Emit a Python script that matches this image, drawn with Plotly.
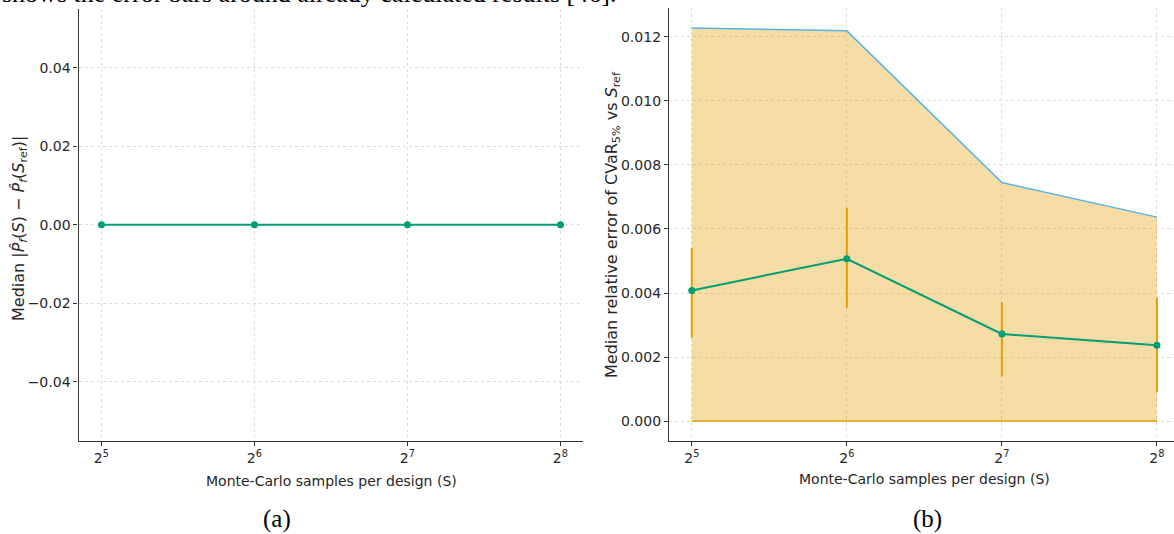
import math
import numpy as np
import plotly.graph_objects as go

# ---------------- data ----------------
S = [32, 64, 128, 256]
tick_text = ["2<sup>5</sup>", "2<sup>6</sup>", "2<sup>7</sup>", "2<sup>8</sup>"]

# (a) median |Pf(S) - Pf(Sref)|
pf_median = [0.0, 0.0, 0.0, 0.0]

# (b) median relative CVaR error with error bars and band
cvar_median = [0.00408, 0.00507, 0.00272, 0.00237]
cvar_err_hi = [0.00541, 0.00666, 0.00370, 0.00385]
cvar_err_lo = [0.00260, 0.00353, 0.00139, 0.00091]
band_hi = [0.01228, 0.01219, 0.00745, 0.00637]
band_lo = [0.0, 0.0, 0.0, 0.0]

# ---------------- style ----------------
W, H = 1174, 534
GREEN = "#009E73"
ORANGE = "#E69F00"
BLUE = "#56B4E9"
TXT = "#262626"
FONT = "DejaVu Sans"
SERIF = "Liberation Serif"

def px_x(p):
    return p / W

def px_y(p):
    return (H - p) / H

L2 = math.log10(2)

fig = go.Figure()

# (a)
fig.add_trace(go.Scatter(
    x=S, y=pf_median, mode="lines+markers",
    line=dict(color=GREEN, width=2), marker=dict(color=GREEN, size=7),
    xaxis="x", yaxis="y", showlegend=False))

# (b) band
fig.add_trace(go.Scatter(
    x=S, y=band_lo, mode="lines", line=dict(color=ORANGE, width=1.5),
    xaxis="x2", yaxis="y2", showlegend=False))
fig.add_trace(go.Scatter(
    x=S, y=band_hi, mode="lines", line=dict(color=BLUE, width=1.5),
    fill="tonexty", fillcolor="rgba(230,159,0,0.35)",
    xaxis="x2", yaxis="y2", showlegend=False))

med = np.array(cvar_median)
fig.add_trace(go.Scatter(
    x=S, y=cvar_median, mode="lines+markers",
    line=dict(color=GREEN, width=2), marker=dict(color=GREEN, size=7),
    error_y=dict(type="data", array=(np.array(cvar_err_hi) - med).tolist(),
                 arrayminus=(med - np.array(cvar_err_lo)).tolist(),
                 color=ORANGE, thickness=2, width=0),
    xaxis="x2", yaxis="y2", showlegend=False))

axis_common = dict(
    showline=True, linecolor="#333333", linewidth=1.3,
    ticks="outside", ticklen=4, tickcolor="#333333", tickwidth=1,
    showgrid=True, gridcolor="#dcdcdc", griddash="dot", gridwidth=1,
    zeroline=False, tickfont=dict(family=FONT, size=14, color=TXT),
)

fig.update_layout(
    width=W, height=H,
    margin=dict(l=0, r=0, t=0, b=0),
    paper_bgcolor="white", plot_bgcolor="white",
    font=dict(family=FONT, color=TXT),
    xaxis=dict(axis_common, type="log", domain=[px_x(78.5), px_x(583.4)],
               range=[4.85 * L2, 8.15 * L2], tickvals=S, ticktext=tick_text,
               anchor="y"),
    yaxis=dict(axis_common, domain=[px_y(440.7), px_y(9)],
               range=[-0.055, 0.055], tickvals=[-0.04, -0.02, 0.0, 0.02, 0.04],
               tickformat=".2f", anchor="x"),
    xaxis2=dict(axis_common, type="log", domain=[px_x(669), 1.0],
                range=[4.853 * L2, 8.11 * L2], tickvals=S, ticktext=tick_text,
                anchor="y2"),
    yaxis2=dict(axis_common, domain=[px_y(440.7), px_y(8.3)],
                range=[-0.000614, 0.012894],
                tickvals=[0.0, 0.002, 0.004, 0.006, 0.008, 0.010, 0.012],
                tickformat=".3f", anchor="x2"),
)

def note(text, x, y, size, family=FONT, color=TXT, angle=0,
         xanchor="center", yanchor="middle"):
    return dict(text=text, x=px_x(x), y=px_y(y), xref="paper", yref="paper",
                xanchor=xanchor, yanchor=yanchor, showarrow=False,
                textangle=angle, font=dict(family=family, size=size, color=color))

ann = [
    note("Monte-Carlo samples per design (S)", 331, 481, 14),
    note("Monte-Carlo samples per design (S)", 924.5, 479, 14),
    note("Median |<i>P̂</i><sub><i>f</i></sub>(<i>S</i>) − "
         "<i>P̂</i><sub><i>f</i></sub>(<i>S</i><sub>ref</sub>)|",
         19, 229, 16, angle=-90),
    note("Median relative error of CVaR<sub>5%</sub> vs <i>S</i><sub>ref</sub>",
         612, 225, 16, angle=-90),
    note("(a)", 277, 519, 25, family=SERIF, color="black"),
    note("(b)", 928, 519, 25, family=SERIF, color="black"),
    note("shows the error bars around already calculated results [46].",
         618, -7, 26, family=SERIF, color="black", xanchor="right"),
]
fig.update_layout(annotations=ann)

fig.write_html("out.html", config={"displayModeBar": False},
               post_script="document.body.style.margin='0';")
